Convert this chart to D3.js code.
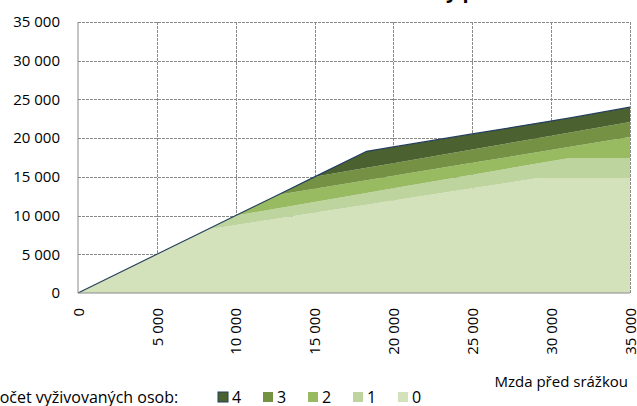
<!DOCTYPE html>
<html lang="cs">
<head>
<meta charset="UTF-8">
<title>Zůstatek mzdy po srážce</title>
<script src="https://d3js.org/d3.v7.min.js"></script>
<style>
    body { margin: 0; background: #fff; font-family: "Open Sans", sans-serif; }
    svg { display: block; }
    .tick text { font-size: 15px; fill: #000; font-family: "Open Sans", sans-serif; }
    .grid line { stroke: #8a8a8a; stroke-dasharray: 3,1; shape-rendering: crispEdges; }
    .legend text { font-size: 16px; fill: #000; }
    .axis-title { font-size: 15px; fill: #000; }
</style>
</head>
<body>
<div id="chart"></div>
<script>
    // --- Data ---
    const wage = [0, 5000, 8200, 10000, 12700, 15000, 18300, 20000, 25000, 29200, 31200, 35000];
    // increments per number of dependants (stacked)
    const persons0 = [0, 5000, 8200, 8770, 9630, 10360, 11400, 11950, 13530, 14860, 14860, 14860];
    const persons1 = [0, 0, 0, 1230, 1320, 1400, 1520, 1570, 1750, 1900, 2580, 2580];
    const persons2 = [0, 0, 0, 0, 1750, 1710, 1650, 1620, 1530, 1450, 1440, 2710];
    const persons3 = [0, 0, 0, 0, 0, 1530, 1600, 1630, 1730, 1820, 1860, 1940];
    const persons4 = [0, 0, 0, 0, 0, 0, 2130, 2100, 2000, 1910, 1870, 1910];
    const keys = ["0", "1", "2", "3", "4"];
    const colors = ["#d3e2bb", "#bed49e", "#98bb62", "#759244", "#4b6230"];
    const legendOrder = ["4", "3", "2", "1", "0"];
    const xTicks = [0, 5000, 10000, 15000, 20000, 25000, 30000, 35000];
    const yTicks = [0, 5000, 10000, 15000, 20000, 25000, 30000, 35000];

    const table = wage.map((w, i) => ({
        wage: w, "0": persons0[i], "1": persons1[i], "2": persons2[i], "3": persons3[i], "4": persons4[i]
    }));

    // --- Layout ---
    const W = 637, H = 406;
    const margin = {top: 22, right: 7, bottom: 113, left: 78};
    const width = W - margin.left - margin.right;
    const height = H - margin.top - margin.bottom;

    const root = d3.select("#chart").append("svg").attr("width", W).attr("height", H);
    const svg = root.append("g").attr("transform", `translate(${margin.left},${margin.top})`);

    const x = d3.scaleLinear().domain([0, 35000]).range([0, width]);
    const y = d3.scaleLinear().domain([0, 35000]).range([height, 0]);
    const fmt = v => d3.format(",")(v).replace(/,/g, " ");

    // title (mostly cut off at top)
    const title = root.append("text").attr("font-weight", "bold").attr("font-size", 20)
        .attr("y", -2).text("Zůstatek mzdy po srážce");
    const pre = title.node().getSubStringLength(0, 12);
    title.attr("x", 446 - pre);

    // grid
    svg.append("g").attr("class", "grid")
        .call(d3.axisLeft(y).tickValues(yTicks.slice(1)).tickSize(-width).tickFormat(""))
        .call(g => g.select(".domain").remove());
    svg.append("g").attr("class", "grid")
        .call(d3.axisBottom(x).tickValues(xTicks.slice(1)).tickSize(height).tickFormat(""))
        .call(g => g.select(".domain").remove());

    // stacked areas
    const series = d3.stack().keys(keys)(table);
    const area = d3.area().x(d => x(d.data.wage)).y0(d => y(d[0])).y1(d => y(d[1]));
    svg.selectAll(".layer").data(series).join("path")
        .attr("class", "layer")
        .attr("fill", (d, i) => colors[i])
        .attr("d", area);

    // outline of the top series
    const topLine = d3.line().x(d => x(d.data.wage)).y(d => y(d[1]));
    svg.append("path").datum(series[4]).attr("fill", "none")
        .attr("stroke", "#243f5e").attr("stroke-width", 1.2).attr("d", topLine);

    // axes
    svg.append("line").attr("x1", 0).attr("x2", 0).attr("y1", 0).attr("y2", height)
        .attr("stroke", "#8a8a8a");
    svg.append("line").attr("x1", 0).attr("x2", width).attr("y1", height).attr("y2", height)
        .attr("stroke", "#8a8a8a");

    svg.append("g")
        .call(d3.axisLeft(y).tickValues(yTicks).tickSize(0).tickPadding(18).tickFormat(fmt))
        .call(g => g.select(".domain").remove());

    const xa = svg.append("g").attr("transform", `translate(0,${height})`)
        .call(d3.axisBottom(x).tickValues(xTicks).tickSize(0).tickFormat(fmt))
        .call(g => g.select(".domain").remove());
    xa.selectAll(".tick text")
        .attr("transform", "rotate(-90)")
        .attr("text-anchor", "end")
        .attr("x", -15).attr("y", 0).attr("dy", "0.35em");

    // axis title
    root.append("text").attr("class", "axis-title").attr("x", 628).attr("y", 387)
        .attr("text-anchor", "end").text("Mzda před srážkou");

    // legend
    const legend = root.append("g").attr("class", "legend");
    legend.append("text").attr("x", -10).attr("y", 403).text("Počet vyživovaných osob:");
    legendOrder.forEach((k, i) => {
        const gx = 218 + i * 45;
        legend.append("rect").attr("x", gx).attr("y", 392).attr("width", 10).attr("height", 10)
            .attr("fill", colors[+k])
            .attr("stroke", k === "4" ? "#243f5e" : "none").attr("stroke-width", 1);
        legend.append("text").attr("x", gx + 14).attr("y", 403).text(k);
    });
</script>
</body>
</html>
